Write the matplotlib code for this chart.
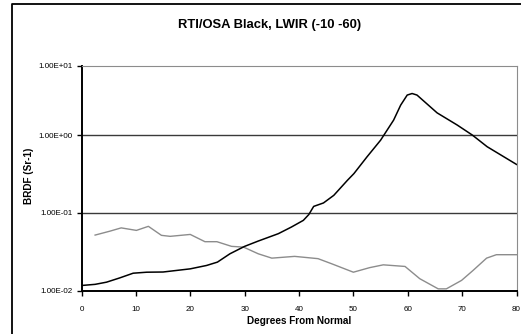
import numpy as np
import matplotlib
matplotlib.use("Agg")
import matplotlib.pyplot as plt
from matplotlib.lines import Line2D
from matplotlib.ticker import FixedLocator, NullLocator

plt.rcParams['font.family'] = ['Liberation Sans', 'DejaVu Sans']

# black curve (main)
deg_black = [0, 2.5, 4.6, 7, 9.5, 12, 15, 20, 23, 25, 27.3, 30, 32.5, 36.2, 38.6,
             40.8, 41.8, 42.7, 44.5, 46.4, 48.9, 50.1, 52.5, 55, 57.4, 58.7, 59.9,
             60.8, 61.7, 65.4, 69.1, 71.9, 74.6, 80]
brdf_black = [0.0116, 0.0120, 0.0128, 0.0145, 0.0167, 0.0172, 0.0173, 0.0190, 0.0210,
              0.0232, 0.0297, 0.037, 0.0433, 0.0539, 0.0656, 0.080, 0.095, 0.121,
              0.134, 0.168, 0.262, 0.32, 0.525, 0.86, 1.65, 2.72, 3.8, 4.0, 3.8,
              2.1, 1.40, 1.0, 0.71, 0.42]

# gray curve
deg_gray = [2.5, 5.2, 7.3, 10.1, 12.3, 14.7, 16.3, 20, 22.7, 24.9, 27.6, 29.8, 32.5,
            35, 39.2, 43.5, 46, 50, 53, 55.5, 59.5, 62.2, 65.6, 67.1, 69.9, 72,
            74.5, 76.3, 80]
brdf_gray = [0.0517, 0.058, 0.064, 0.0594, 0.067, 0.0513, 0.0498, 0.0527, 0.0425,
             0.0425, 0.037, 0.0362, 0.0297, 0.0261, 0.0275, 0.0257, 0.0221, 0.0172,
             0.0197, 0.0214, 0.0204, 0.0142, 0.0105, 0.0105, 0.0135, 0.0181,
             0.0261, 0.0289, 0.0289]

yticks = [0.01, 0.1, 1, 10]
ytick_labels = ["1.00E-02", "1.00E-01", "1.00E+00", "1.00E+01"]
xticks = [0, 10, 20, 30, 40, 50, 60, 70, 80]

W, H = 521, 334
fig = plt.figure(figsize=(W / 100, H / 100), dpi=100)

# outer chart border (left and top visible)
bx, by = 12 / W, 1 - 3.5 / H
fig.add_artist(Line2D([bx, bx, 1.01], [-0.01, by, by], color='black', lw=1.3,
                      transform=fig.transFigure))

ax = fig.add_axes([81.5 / W, (H - 290.5) / H, 435 / W, 224.5 / H])

# upper decade in the picture is a bit shorter than the lower ones
k = 69 / 77.5
def fwd(y):
    l = np.log10(np.clip(y, 1e-12, None))
    return np.where(l > 0, l * k, l)
def inv(t):
    return np.where(t > 0, 10 ** (t / k), 10 ** t)

ax.set_yscale('function', functions=(fwd, inv))
ax.set_ylim(0.01, 10)
ax.set_xlim(0, 80)

ax.plot(deg_gray, brdf_gray, color='#8c8c8c', lw=1.0)
ax.plot(deg_black, brdf_black, color='black', lw=1.1)

for v in [0.1, 1]:
    ax.axhline(v, color='#3a3a3a', lw=1.0, zorder=0)

ax.yaxis.set_major_locator(FixedLocator(yticks))
ax.yaxis.set_minor_locator(NullLocator())
ax.set_yticklabels(ytick_labels)
ax.set_xticks(xticks)
ax.tick_params(axis='both', labelsize=5.8, direction='out', length=3.5,
               width=1, color='black', labelcolor='black')
ax.tick_params(axis='y', pad=3)
ax.tick_params(axis='x', pad=8)

ax.spines['left'].set_color('black')
ax.spines['left'].set_linewidth(1.4)
ax.spines['bottom'].set_color('black')
ax.spines['bottom'].set_linewidth(1.4)
ax.spines['top'].set_color('#8c8c8c')
ax.spines['right'].set_color('#8c8c8c')

fig.text(270 / W, 1 - 25 / H, "RTI/OSA Black, LWIR (-10 -60)", ha='center',
         va='center', fontsize=9.4, fontweight='bold')
fig.text(299 / W, 1 - 321.5 / H, "Degrees From Normal", ha='center', va='center',
         fontsize=7.2, fontweight='bold')
fig.text(28.5 / W, 1 - 176 / H, "BRDF (Sr-1)", ha='center', va='center',
         rotation=90, fontsize=7.2, fontweight='bold')

fig.savefig("out.png", dpi=100)
